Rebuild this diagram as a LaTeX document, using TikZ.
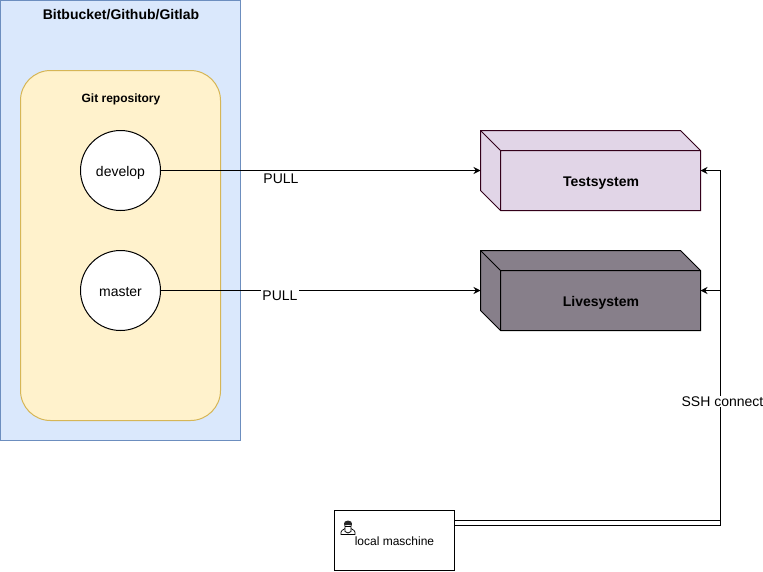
\documentclass[tikz,border=0pt]{standalone}
\usepackage{fontspec}
\setmainfont{Liberation Sans}
\usetikzlibrary{arrows.meta}

\definecolor{hostfill}{HTML}{DAE8FC}
\definecolor{hostline}{HTML}{6C8EBF}
\definecolor{repofill}{HTML}{FFF2CC}
\definecolor{repoline}{HTML}{D6B656}
\definecolor{testfill}{HTML}{E1D5E7}
\definecolor{testline}{HTML}{33001A}
\definecolor{livefill}{HTML}{877F8A}

\tikzset{
  every node/.style={inner sep=0pt, outer sep=0pt, font=\fontsize{14}{16}\selectfont},
  branchnode/.style={draw, fill=white, circle, minimum size=80pt, text height=14pt, text depth=3pt},
  sysnode/.style={minimum width=220pt, minimum height=80pt},
  boldtext/.style={font=\fontsize{14}{16}\selectfont\bfseries},
  arrowline/.style={-{Stealth[length=7pt,width=7pt]}},
  cutlabel/.style={fill=white, inner sep=1pt}
}

\begin{document}
\begin{tikzpicture}[x=1pt, y=-1pt, line width=1pt]
\useasboundingbox (-0.5,-0.5) rectangle (762.5,570.5);

\node[draw=hostline, fill=hostfill, minimum width=240pt, minimum height=440pt] (Host) at (120,220) {};
\node[boldtext] (HostT) at (120.5,14) {Bitbucket/Github/Gitlab};
\node[draw=repoline, fill=repofill, rounded corners=30pt, minimum width=200pt, minimum height=350pt] (Repo) at (120,245) {};
\node[font=\fontsize{12}{14}\selectfont\bfseries] (RepoT) at (120.5,99) {Git repository};
\node[branchnode] (Dev) at (120,170) {develop};
\node[branchnode] (Mas) at (120,290) {master};

% the two boxes
\node[sysnode] (Ts) at (590,170) {};
\node[sysnode] (Ls) at (590,290) {};
\draw[draw=testline, fill=testfill] (Ts.north west) -- ++(200,0) -- ++(20,20) -- ++(0,60) -- ++(-200,0) -- ++(-20,-20) -- cycle;
\draw[draw=testline] (Ts.north west) -- ++(20,20) -- ++(200,0) ++(-200,0) -- ++(0,60);
\draw[fill=livefill] (Ls.north west) -- ++(200,0) -- ++(20,20) -- ++(0,60) -- ++(-200,0) -- ++(-20,-20) -- cycle;
\draw (Ls.north west) -- ++(20,20) -- ++(200,0) ++(-200,0) -- ++(0,60);
\node[boldtext] (TsT) at (600.5,182.5) {Testsystem};
\node[boldtext] (LsT) at (600.5,302) {Livesystem};

\node[draw, fill=white, minimum width=120pt, minimum height=60pt] (Lm) at (394,540) {};
\node[font=\fontsize{12}{14}\selectfont] (LmT) at (394,541) {local maschine};

% little user icon
\draw[line width=.7pt, fill=white] (340.5,534) .. controls (340,530) and (342,529.5) .. (344.5,528) -- (350.5,528) .. controls (353,529.5) and (355,530) .. (354.5,534) -- cycle;
\draw[line width=.7pt, fill=white] (344.5,531) -- (344.5,526) -- (350.5,526) -- (350.5,531) -- (347.5,532.5) -- cycle;
\fill[black!85] (343.8,525.5) .. controls (343,521) and (345,520) .. (347.5,520) .. controls (350,520) and (352,521) .. (351.2,525.5) .. controls (350,524) and (345,524) .. (343.8,525.5) -- cycle;

\coordinate (JnA) at (720,520);
\coordinate (JnB) at (720,525);

\draw[arrowline] (Dev) -- (Ts.west);
\draw[arrowline] (Mas) -- (Ls.west);
\draw (Lm.east |- JnA) -- (JnA);
\draw (Lm.east |- JnB) -- (JnB);
\draw[arrowline] (JnB) |- (Ts.east);
\draw[arrowline] (JnB) |- (Ls.east);

\node[cutlabel] (PullA) at (280.5,178) {PULL};
\node[cutlabel] (PullB) at (279.5,295) {PULL};
\node[cutlabel] (Ssh) at (722,401) {SSH connect};
\end{tikzpicture}
\end{document}
